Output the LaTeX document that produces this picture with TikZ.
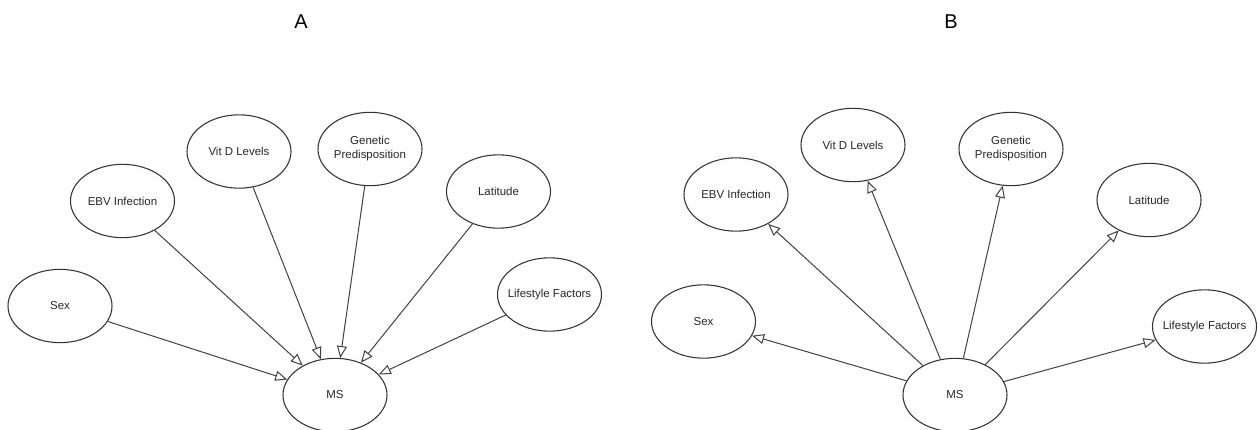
\documentclass[tikz,border=0pt]{standalone}
\usepackage{fontspec}
\setmainfont{Liberation Sans}
\usetikzlibrary{shapes.geometric,arrows.meta}
\begin{document}
\begin{tikzpicture}[x=0.75pt,y=-0.75pt,
  var/.style={ellipse,draw=black!80,line width=0.8pt,minimum width=78pt,minimum height=55pt,
    inner xsep=-12pt,inner ysep=0pt,font=\fontsize{8.6}{10.5}\selectfont,align=center,text=black!85},
  link/.style={draw=black!75,line width=0.75pt,-{Triangle[open,length=9pt,width=7.5pt]}},
  panel/.style={font=\fontsize{15}{18}\selectfont,text=black}]
\useasboundingbox (0,0) rectangle (1258,429);

% Panel A: every factor points to MS
\node[panel] (labA) at (301,22) {A};
\node[var] (aSex) at (60,306) {Sex};
\node[var] (aEBV) at (122.5,201) {EBV Infection};
\node[var] (aVit) at (239,151.5) {Vit D Levels};
\node[var] (aGen) at (370,149) {Genetic\\Predisposition};
\node[var] (aLat) at (498.5,191.5) {Latitude};
\node[var] (aLife) at (549.5,294.5) {Lifestyle Factors};
\node[var] (aMS) at (335,395) {MS};
\foreach \n in {aSex,aEBV,aVit,aGen,aLat,aLife}
  \draw[link] (\n) -- (aMS);

% Panel B: MS points to every factor
\node[panel] (labB) at (951,22) {B};
\node[var] (bSex) at (703.5,321.5) {Sex};
\node[var] (bEBV) at (736,194.5) {EBV Infection};
\node[var] (bVit) at (853,145) {Vit D Levels};
\node[var] (bGen) at (1011,149) {Genetic\\Predisposition};
\node[var] (bLat) at (1149,200) {Latitude};
\node[var] (bLife) at (1204.5,326.5) {Lifestyle Factors};
\node[var] (bMS) at (955,395) {MS};
\foreach \n in {bSex,bEBV,bVit,bGen,bLat,bLife}
  \draw[link] (bMS) -- (\n);
\end{tikzpicture}
\end{document}
